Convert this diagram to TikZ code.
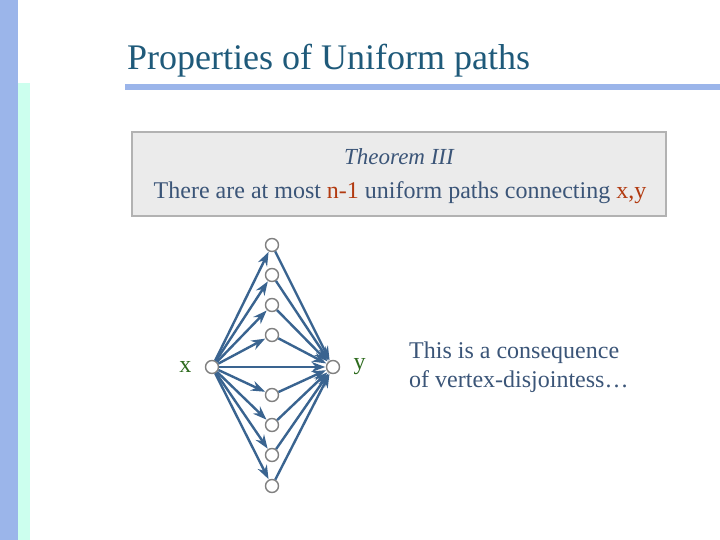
\documentclass[tikz,border=0pt]{standalone}
\usepackage{fontspec}
\setmainfont{Liberation Serif}
\usetikzlibrary{arrows.meta,positioning}
\definecolor{barblue}{HTML}{9BB5EA}
\definecolor{barmint}{HTML}{CCFFEE}
\definecolor{titleblue}{HTML}{1F5A7A}
\definecolor{textblue}{HTML}{3B5578}
\definecolor{edgeblue}{HTML}{3A6490}
\definecolor{accent}{HTML}{B23A10}
\definecolor{labgreen}{HTML}{2E6B1E}
\tikzset{
    vert/.style={circle,draw=gray,line width=1.4pt,fill=white,minimum size=13pt,inner sep=0pt},
    path arrow/.style={-{Stealth[scale=1.0,angle'=40]},draw=edgeblue,line width=2.4pt,shorten >=0.5pt}
}
\begin{document}
\begin{tikzpicture}[x=1pt,y=-1pt]
    \useasboundingbox (0,0) rectangle (720,540);
    \fill[white] (0,0) rectangle (720,540);
    \fill[barblue] (0,0) rectangle (18,540);
    \fill[barmint] (18,83) rectangle (30,540);
    \fill[barblue] (125,84) rectangle (720,90);
    \node[anchor=base west,text=titleblue,font=\fontsize{36}{40}\selectfont,inner sep=0pt] (title) at (127,70) {Properties of Uniform paths};
    \draw[draw=black!30,line width=2.5pt,fill=black!8] (132,132) rectangle (666,216);
    \node[text=textblue,font=\fontsize{23}{26}\selectfont\itshape] (thm) at (399,157) {Theorem III};
    \node[text=textblue,font=\fontsize{24}{27}\selectfont] (stmt) at (400,193) {There are at most \textcolor{accent}{n-1} uniform paths connecting \textcolor{accent}{x,y}};
    % vertices
    \node[vert] (x) at (212,367) {};
    \node[vert] (y) at (333,367) {};
    \node[left=10pt of x,text=labgreen,font=\fontsize{24}{27}\selectfont] (xl) {x};
    \node[right=10pt of y,text=labgreen,font=\fontsize{24}{27}\selectfont] (yl) {y};
    \foreach \i/\h in {1/245,2/275,3/305,4/335,5/395,6/425,7/455,8/486}
    {
        \node[vert] (m\i) at (272,\h) {};
    };
    \foreach \i in {1,...,8}
    {
        \draw[path arrow] (x) -- (m\i);
        \draw[path arrow] (m\i) -- (y);
    };
    \draw[path arrow] (x) -- (y);
    \node[anchor=north west,align=left,text=textblue,font=\fontsize{24}{29}\selectfont,inner sep=0pt] (note) at (409,342) {This is a consequence\\of vertex-disjointess\ldots};
\end{tikzpicture}
\end{document}
